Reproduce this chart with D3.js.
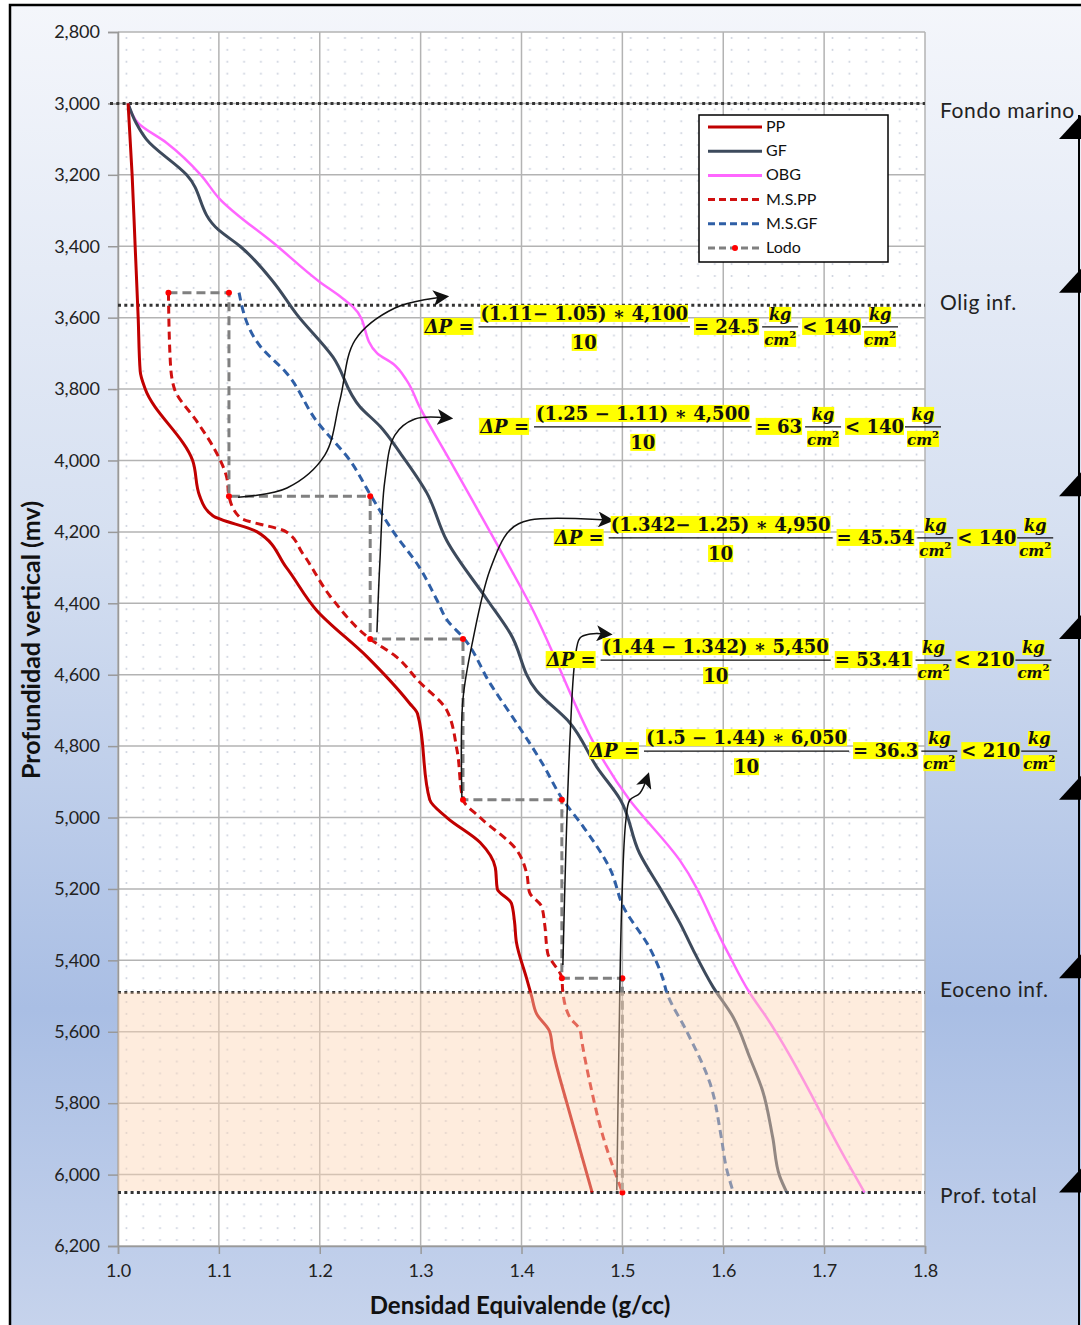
<!DOCTYPE html>
<html><head><meta charset="utf-8">
<script src="https://cdn.jsdelivr.net/npm/d3@7"></script>
<style>body{margin:0;background:#fff}</style>
</head><body><svg id="c" width="1081" height="1325"></svg>
<script>
// ---------- DATA ----------
const xTicks = [1.0, 1.1, 1.2, 1.3, 1.4, 1.5, 1.6, 1.7, 1.8];
const yTicks = [2800, 3000, 3200, 3400, 3600, 3800, 4000, 4200, 4400, 4600, 4800, 5000, 5200, 5400, 5600, 5800, 6000, 6200];

// [depth (mv), density (g/cc)]
const ppData = [[3000,1.01],[3200,1.014],[3400,1.017],[3600,1.02],[3750,1.022],[3800,1.027],[4000,1.074],[4100,1.081],[4155,1.094],[4200,1.138],[4300,1.167],[4420,1.197],[4550,1.247],[4680,1.289],[4710,1.297],[4950,1.309],[5000,1.326],[5070,1.359],[5140,1.374],[5200,1.376],[5240,1.39],[5290,1.393],[5350,1.395],[5450,1.405],[5500,1.41],[5550,1.415],[5600,1.428],[5650,1.431],[5800,1.445],[5900,1.455],[6050,1.47]];
const gfData = [[3000,1.01],[3055,1.018],[3100,1.028],[3200,1.068],[3355,1.1],[3400,1.121],[3500,1.154],[3590,1.177],[3710,1.213],[3850,1.24],[3905,1.26],[3980,1.28],[4090,1.306],[4225,1.326],[4390,1.366],[4485,1.389],[4645,1.415],[4735,1.448],[4860,1.475],[4950,1.498],[5100,1.517],[5210,1.54],[5295,1.557],[5370,1.57],[5475,1.59],[5560,1.61],[5670,1.626],[5765,1.639],[5895,1.649],[6005,1.656],[6050,1.663]];
const obgData = [[3000,1.01],[3055,1.02],[3110,1.048],[3200,1.082],[3265,1.1],[3400,1.158],[3500,1.2],[3540,1.22],[3570,1.233],[3700,1.257],[3730,1.273],[3775,1.286],[3850,1.299],[4000,1.329],[4390,1.406],[4950,1.507],[5120,1.557],[5370,1.603],[5490,1.626],[5560,1.643],[5960,1.722],[6050,1.74]];
const msppData = [[3530,1.05],[3730,1.052],[3800,1.056],[3890,1.078],[3960,1.094],[4050,1.108],[4100,1.11],[4160,1.121],[4200,1.167],[4260,1.183],[4390,1.213],[4500,1.25],[4550,1.276],[4615,1.297],[4700,1.326],[4810,1.336],[4950,1.342],[5000,1.359],[5090,1.395],[5155,1.405],[5210,1.408],[5250,1.42],[5300,1.423],[5380,1.426],[5450,1.44],[5490,1.441],[5560,1.448],[5595,1.458],[5630,1.46],[5745,1.468],[5895,1.481],[6050,1.5]];
const msgfData = [[3530,1.12],[3680,1.141],[3755,1.167],[3890,1.197],[4000,1.23],[4095,1.25],[4200,1.273],[4300,1.299],[4390,1.316],[4450,1.327],[4495,1.342],[4625,1.369],[4735,1.395],[4850,1.421],[4950,1.441],[5025,1.461],[5145,1.488],[5250,1.501],[5365,1.527],[5450,1.54],[5490,1.544],[5600,1.564],[5745,1.587],[5895,1.598],[5980,1.603],[6050,1.61]];
const lodoData = [[3530,1.05],[3530,1.11],[4100,1.11],[4100,1.25],[4500,1.25],[4500,1.342],[4950,1.342],[4950,1.44],[5450,1.44],[5450,1.5],[6050,1.5]];

const horizonNames = ["Fondo marino", "Olig inf.", "Eoceno inf.", "Prof. total"];
const horizonDepths = [3000, 3565, 5490, 6050];
const shoeDepths = [3100, 3530, 4100, 4500, 4950, 5450, 6050];
const bandRange = [5490, 6050];

const legendNames = ["PP", "GF", "OBG", "M.S.PP", "M.S.GF", "Lodo"];

const fNum = ["(1.11\u2212 1.05) \u2217 4,100", "(1.25 \u2212 1.11) \u2217 4,500", "(1.342\u2212 1.25) \u2217 4,950", "(1.44 \u2212 1.342) \u2217 5,450", "(1.5 \u2212 1.44) \u2217 6,050"];
const fRes = ["24.5", "63", "45.54", "53.41", "36.3"];
const fLim = ["140", "140", "140", "210", "210"];
const fAt = [[1.304,3626],[1.359,3906],[1.433,4217],[1.425,4559],[1.468,4814]]; // [density, depth]

// arrow paths [density, depth]
const arrows = [
  [[1.119,4103],[1.1675,4077],[1.205,3985],[1.22,3831],[1.235,3663],[1.2745,3573],[1.322,3542]],
  [[1.2567,4481],[1.2597,4279],[1.2646,4055],[1.2745,3929],[1.2943,3884],[1.326,3881]],
  [[1.3409,4943],[1.3419,4671],[1.3518,4503],[1.3687,4307],[1.3885,4195],[1.4083,4167],[1.4856,4167]],
  [[1.441,5413],[1.444,5091],[1.448,4783],[1.453,4559],[1.458,4497],[1.468,4486],[1.484,4486]],
  [[1.4945,6044],[1.4965,5652],[1.4995,5231],[1.5035,5007],[1.5074,4951],[1.5173,4932],[1.5243,4890]]
];

// ---------- DRAW ----------
const svg = d3.select('#c');
const x = d3.scaleLinear().domain([1.0, 1.8]).range([118, 925]);
const y = d3.scaleLinear().domain([2800, 6200]).range([32, 1246]);
const defs = svg.append('defs');

const grad = defs.append('linearGradient').attr('id','bg').attr('x1',0).attr('y1',0).attr('x2',0).attr('y2',1);
[[0,'#f4f6fb'],[0.4,'#d6e0f1'],[0.76,'#a9bee4'],[1,'#c6d3ec']].forEach(s=>grad.append('stop').attr('offset',s[0]).attr('stop-color',s[1]));

const pdx = (x(1.1)-x(1.0))/6, pdy = (y(3000)-y(2800))/6;
const pat = defs.append('pattern').attr('id','dots').attr('patternUnits','userSpaceOnUse')
  .attr('x', x(1.0)).attr('y', y(2800)).attr('width', pdx).attr('height', pdy);
pat.append('rect').attr('width',pdx).attr('height',pdy).attr('fill','#fff');
pat.append('rect').attr('x',pdx/2-0.8).attr('y',pdy/2-0.8).attr('width',1.6).attr('height',1.6).attr('fill','#c3cad8');

const mk = defs.append('marker').attr('id','arr').attr('viewBox','0 0 10 10').attr('refX',6).attr('refY',5)
  .attr('markerWidth',16).attr('markerHeight',16).attr('orient','auto').attr('markerUnits','userSpaceOnUse');
mk.append('path').attr('d','M0,0 L10,5 L0,10 L2.5,5 Z').attr('fill','#111');

// background frame
svg.append('rect').attr('x',10).attr('y',5).attr('width',1071).attr('height',1320).attr('fill','url(#bg)');
svg.append('path').attr('d','M10,1325 L10,5 L1081,5').attr('fill','none').attr('stroke','#000').attr('stroke-width',2.5);

// plot area
svg.append('rect').attr('x',x(1.0)).attr('y',y(2800)).attr('width',x(1.8)-x(1.0)).attr('height',y(6200)-y(2800)).attr('fill','url(#dots)');

// gridlines
const grid = svg.append('g').attr('stroke','#b3b3b3').attr('stroke-width',1.5);
grid.selectAll('.vx').data(xTicks).enter().append('line').attr('x1',d=>x(d)).attr('x2',d=>x(d)).attr('y1',y(2800)).attr('y2',y(6200));
grid.selectAll('.hy').data(yTicks).enter().append('line').attr('y1',d=>y(d)).attr('y2',d=>y(d)).attr('x1',x(1.0)).attr('x2',x(1.8));

// axes
const tickFont = 'Lato, "Liberation Sans", sans-serif';
const gx = svg.append('g').attr('transform',`translate(0,${y(6200)})`)
  .call(d3.axisBottom(x).tickValues(xTicks).tickFormat(d3.format('.1f')).tickSize(8).tickPadding(10));
const gy = svg.append('g').attr('transform',`translate(${x(1.0)},0)`)
  .call(d3.axisLeft(y).tickValues(yTicks).tickFormat(d3.format(',')).tickSize(10).tickPadding(8));
[gx,gy].forEach(g=>{
  g.select('.domain').attr('stroke','#999').attr('stroke-width',1.5);
  g.selectAll('.tick line').attr('stroke','#999').attr('stroke-width',1.5);
  g.selectAll('.tick text').attr('fill','#222').style('font-family',tickFont).style('font-size','18px');
});

svg.append('text').attr('x',520).attr('y',1314).attr('text-anchor','middle')
  .style('font-family',tickFont).style('font-weight','bold').style('font-size','24px').attr('fill','#111')
  .text('Densidad Equivalende  (g/cc)');
svg.append('text').attr('transform','translate(40,640) rotate(-90)').attr('text-anchor','middle')
  .style('font-family',tickFont).style('font-weight','bold').style('font-size','25px').attr('fill','#111')
  .text('Profundidad vertical  (mv)');

// horizon dotted lines
svg.selectAll('.hz').data(horizonDepths).enter().append('line')
  .attr('x1',(d,i)=>i===0?x(1.0)-8:x(1.0)).attr('x2',x(1.8)).attr('y1',d=>y(d)).attr('y2',d=>y(d))
  .attr('stroke','#333').attr('stroke-width',3).attr('stroke-dasharray','3,3.3');

// series
const line = d3.line().x(d=>x(d[1])).y(d=>y(d[0])).curve(d3.curveMonotoneY);
const lineLin = d3.line().x(d=>x(d[1])).y(d=>y(d[0]));
const series = [
  {data:obgData, color:'#ff66ff', w:2.5, dash:null},
  {data:gfData, color:'#3d4a5c', w:3, dash:null},
  {data:msgfData, color:'#2f5fa6', w:3, dash:'8,5'},
  {data:ppData, color:'#c00000', w:3, dash:null},
  {data:msppData, color:'#d01010', w:3, dash:'8,5'}
];
series.forEach(s=>{
  svg.append('path').datum(s.data).attr('d',line).attr('fill','none').attr('stroke',s.color)
    .attr('stroke-width',s.w).attr('stroke-dasharray',s.dash).attr('stroke-linejoin','round');
});
svg.append('path').datum(lodoData).attr('d',lineLin).attr('fill','none').attr('stroke','#808080')
  .attr('stroke-width',3).attr('stroke-dasharray','9,5');
svg.selectAll('.ld').data(lodoData).enter().append('circle').attr('cx',d=>x(d[1])).attr('cy',d=>y(d[0])).attr('r',3).attr('fill','#ff0000');

// arrows
const aline = d3.line().x(d=>x(d[0])).y(d=>y(d[1])).curve(d3.curveCatmullRom.alpha(0.5));
arrows.forEach(a=>{
  svg.append('path').datum(a).attr('d',aline).attr('fill','none').attr('stroke','#111').attr('stroke-width',1.5).attr('marker-end','url(#arr)');
});

// band (semi-transparent, drawn over lines)
svg.append('rect').attr('x',x(1.0)).attr('y',y(bandRange[0])).attr('width',x(1.8)-x(1.0)-3)
  .attr('height',y(bandRange[1])-y(bandRange[0])-1.5).attr('fill','rgb(252,213,180)').attr('fill-opacity',0.45);

// horizon labels
const hOff = [15, 5, 5, 11];
svg.selectAll('.hl2').data(horizonNames).enter().append('text')
  .attr('x',940).attr('y',(d,i)=>y(horizonDepths[i]) + hOff[i]).text(d=>d)
  .style('font-family',tickFont).style('font-size','21px').style('letter-spacing','0.6px').attr('fill','#222');

// casing shoe triangles
svg.append('line').attr('x1',1079).attr('x2',1079).attr('y1',y(shoeDepths[0])-24).attr('y2',1325).attr('stroke','#000').attr('stroke-width',2);
svg.selectAll('.tri').data(shoeDepths).enter().append('path')
  .attr('d',d=>`M1059,${y(d)} L1081,${y(d)-24} L1081,${y(d)} Z`).attr('fill','#000');

// legend
const lg = svg.append('g');
lg.append('rect').attr('x',699).attr('y',115).attr('width',189).attr('height',147).attr('fill','#fff').attr('stroke','#000').attr('stroke-width',1.5);
const lstyles = [
  {c:'#c00000',d:null},{c:'#3d4a5c',d:null},{c:'#ff66ff',d:null},{c:'#d01010',d:'7,4'},{c:'#2f5fa6',d:'7,4'},{c:'#808080',d:'7,4'}
];
legendNames.forEach((n,i)=>{
  const yy = 127 + i*24.2;
  lg.append('line').attr('x1',708).attr('x2',762).attr('y1',yy).attr('y2',yy).attr('stroke',lstyles[i].c).attr('stroke-width',3).attr('stroke-dasharray',lstyles[i].d);
  if(i===5) lg.append('circle').attr('cx',735).attr('cy',yy).attr('r',3).attr('fill','#ff0000');
  lg.append('text').attr('x',766).attr('y',yy+5).text(n).style('font-family','"Liberation Sans Narrow", Lato, sans-serif').style('font-size','16px').attr('fill','#111');
});

// formulas
const ff = '"DejaVu Serif", "Liberation Serif", serif';
const fs = 18, fsu = 16;
const ann = svg.append('g').style('font-family',ff).style('font-weight','bold').attr('fill','#111');
function unit(g, cx, my){
  const k = g.append('text').attr('class','hl').attr('y',my-7).attr('text-anchor','middle').style('font-style','italic').style('font-size',fsu+'px').text('kg');
  const c = g.append('text').attr('class','hl').attr('y',my+18).attr('text-anchor','middle').style('font-style','italic').style('font-size',(fsu-1)+'px');
  c.append('tspan').text('cm');
  c.append('tspan').attr('dy',-7).style('font-size','10px').style('font-style','normal').text('2');
  const w = Math.max(k.node().getComputedTextLength(), c.node().getComputedTextLength()) + 4;
  k.attr('x',cx+w/2); c.attr('x',cx+w/2);
  g.append('line').attr('x1',cx).attr('x2',cx+w).attr('y1',my).attr('y2',my).attr('stroke','#111').attr('stroke-width',1.3);
  return cx + w + 4;
}
fNum.forEach((num,i)=>{
  const g = ann.append('g').style('font-size',fs+'px');
  let cx = x(fAt[i][0]); const my = y(fAt[i][1]);
  const t1 = g.append('text').attr('class','hl').attr('x',cx).attr('y',my+6);
  t1.append('tspan').style('font-style','italic').text('\u0394P');
  t1.append('tspan').text(' =');
  cx += t1.node().getComputedTextLength() + 5;
  const tn = g.append('text').attr('class','hl').attr('y',my-7).attr('text-anchor','middle').text(num);
  const fw = tn.node().getComputedTextLength() + 4;
  tn.attr('x',cx+fw/2);
  g.append('line').attr('x1',cx).attr('x2',cx+fw).attr('y1',my).attr('y2',my).attr('stroke','#111').attr('stroke-width',1.3);
  g.append('text').attr('class','hl').attr('x',cx+fw/2).attr('y',my+22).attr('text-anchor','middle').text('10');
  cx += fw + 4;
  const t2 = g.append('text').attr('class','hl').attr('x',cx).attr('y',my+6).text('= ' + fRes[i]);
  cx += t2.node().getComputedTextLength() + 3;
  cx = unit(g, cx, my);
  const t3 = g.append('text').attr('class','hl').attr('x',cx).attr('y',my+6).text('< ' + fLim[i]);
  cx += t3.node().getComputedTextLength() + 1;
  unit(g, cx, my);
  g.selectAll('text.hl').each(function(){
    const b = this.getBBox();
    g.insert('rect',':first-child').attr('x',b.x).attr('y',b.y+2).attr('width',b.width).attr('height',b.height-4).attr('fill','#ffff00');
  });
});
</script></body></html>
